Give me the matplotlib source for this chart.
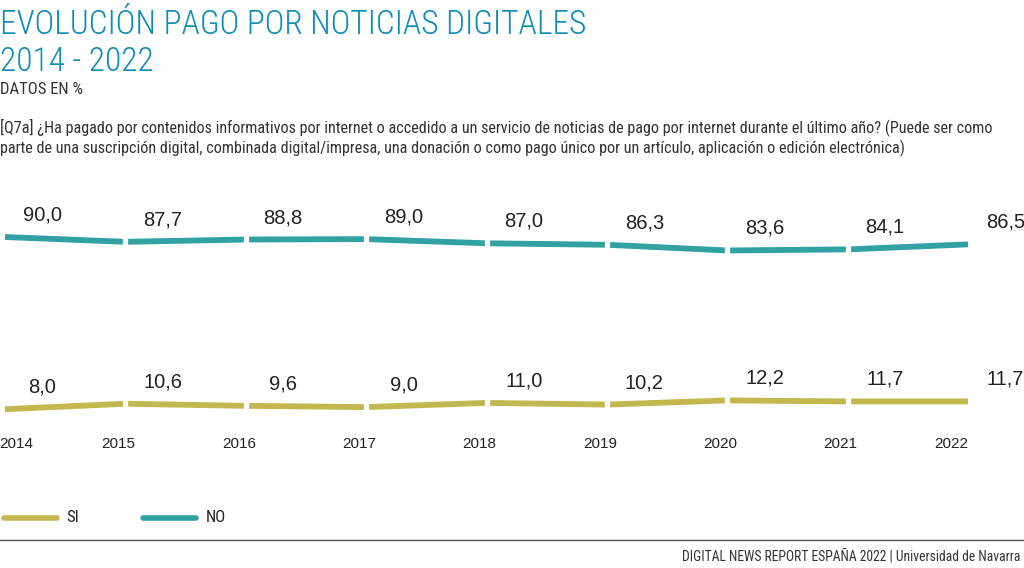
import matplotlib.pyplot as plt
from matplotlib.lines import Line2D
from matplotlib.transforms import offset_copy

years = ["2014", "2015", "2016", "2017", "2018", "2019", "2020", "2021", "2022"]
si = [8.0, 10.6, 9.6, 9.0, 11.0, 10.2, 12.2, 11.7, 11.7]
no = [90.0, 87.7, 88.8, 89.0, 87.0, 86.3, 83.6, 84.1, 86.5]

teal = "#31a1a4"
olive = "#c3b84f"
blue = "#0f8cb6"
narrow = ["Roboto Condensed", "PT Sans Narrow", "DejaVu Sans"]
plain = ["Liberation Sans", "DejaVu Sans"]

fig = plt.figure(figsize=(10.24, 5.68), dpi=100)
ax = fig.add_axes([5 / 1024, 0.25, 963 / 1024, 0.3697])
x = list(range(len(years)))

for vals, col in [(no, teal), (si, olive)]:
    ax.plot(x, vals, color=col, lw=4.2, solid_capstyle="butt", clip_on=False)
    # white notches between segments
    ax.plot(x[1:-1], vals[1:-1], ls="none", marker="|", ms=13, mew=3.8,
            color="white", clip_on=False)
    for xi, v in zip(x, vals):
        ax.annotate(f"{v:.1f}".replace(".", ","), (xi, v), xytext=(27, 9),
                    textcoords="offset points", ha="center", va="bottom",
                    fontsize=14.5, family=plain, color="#222222")

ax.set_xlim(0, 8)
ax.set_ylim(0, 100)
ax.set_xticks(x)
ax.set_xticklabels(years, fontsize=11, family=plain, color="#222222")
ax.tick_params(length=0, pad=8)
labels = ax.get_xticklabels()
for lab in labels[1:-1]:
    lab.set_transform(offset_copy(lab.get_transform(), fig=fig, x=-5, units="points"))
labels[0].set_ha("left")
labels[0].set_transform(offset_copy(labels[0].get_transform(), fig=fig, x=-4, units="points"))
labels[-1].set_ha("right")
ax.set_yticks([])
for s in ax.spines.values():
    s.set_visible(False)

fig.text(0.0, 0.984, "EVOLUCIÓN PAGO POR NOTICIAS DIGITALES\n2014 - 2022",
         fontsize=24, family=narrow, weight="light", color=blue, va="top", linespacing=1.18)
fig.text(0.0, 0.855, "DATOS EN %", fontsize=12, family=narrow, color="#333333", va="top")
fig.text(0.0, 0.792,
         "[Q7a] ¿Ha pagado por contenidos informativos por internet o accedido a un servicio de noticias de pago "
         "por internet durante el último año? (Puede ser como\nparte de una suscripción digital, combinada "
         "digital/impresa, una donación o como pago único por un artículo, aplicación o edición electrónica)",
         fontsize=11.6, family=narrow, color="#333333", va="top", linespacing=1.25)

# legend
ly = 1 - 518 / 568
fig.add_artist(Line2D([4 / 1024, 57 / 1024], [ly, ly], color=olive, lw=4, solid_capstyle="round"))
fig.text(66 / 1024, ly, "SI", fontsize=12, family=narrow, color="#222222", va="center")
fig.add_artist(Line2D([143 / 1024, 196 / 1024], [ly, ly], color=teal, lw=4, solid_capstyle="round"))
fig.text(206 / 1024, ly, "NO", fontsize=12, family=narrow, color="#222222", va="center")

fig.add_artist(Line2D([0, 1], [1 - 540 / 568] * 2, color="#555555", lw=1))
fig.text(0.996, 1 - 556 / 568, "DIGITAL NEWS REPORT ESPAÑA 2022 | Universidad de Navarra",
         fontsize=9.8, family=narrow, color="#333333", ha="right", va="center")

fig.savefig("out.png", dpi=100)
